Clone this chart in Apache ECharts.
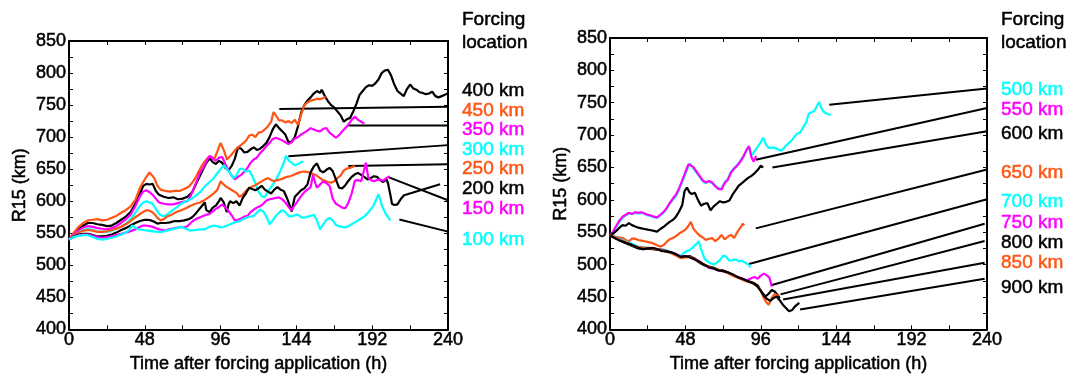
<!DOCTYPE html>
<html>
<head>
<meta charset="utf-8">
<script src="https://cdn.jsdelivr.net/npm/echarts@6/dist/echarts.min.js"></script>
<style>
html, body { margin: 0; padding: 0; background: #fff; }
#chart { width: 1071px; height: 378px; }
</style>
</head>
<body>
<div id="chart"></div>
<script>
// axis ticks
const xTicks = [0, 48, 96, 144, 192, 240];
const yTicks = [400, 450, 500, 550, 600, 650, 700, 750, 800, 850];

// left panel: forcing 100-450 km, [hour, R15]
const r400 = [[0,540],[3,548],[6,556],[9,562],[12,566],[15,566],[18,564],[21,563],[24,561],[27,562],[30,566],[33,571],[36,576],[39,583],[42,596],[45,612],[47,624],[49,627],[51,626],[53,627],[55,616],[57,610],[60,607],[63,605],[66,606],[69,603],[72,604],[75,607],[78,614],[81,630],[84,645],[87,660],[89,667],[91,661],[93,658],[95,663],[97,660],[99,652],[101,648],[103,655],[105,666],[107,684],[109,682],[111,676],[113,677],[115,681],[117,684],[119,680],[121,682],[123,686],[125,691],[127,700],[129,712],[131,720],[133,714],[135,709],[137,704],[139,692],[141,693],[143,700],[145,717],[147,738],[149,750],[151,757],[153,762],[155,768],[157,772],[159,769],[160,774],[162,764],[164,756],[166,750],[168,746],[170,740],[172,734],[174,724],[176,728],[178,730],[180,740],[182,752],[184,766],[186,772],[188,778],[190,781],[192,780],[194,784],[196,790],[198,800],[200,804],[202,805],[204,796],[206,782],[208,772],[210,768],[212,764],[214,775],[216,782],[218,776],[220,774],[222,770],[224,769],[226,767],[228,768],[230,771],[232,764],[234,762],[236,764],[238,766],[240,769]];
const r450 = [[0,540],[3,551],[6,560],[9,566],[12,570],[15,571],[18,572],[21,570],[24,571],[27,574],[30,577],[33,582],[36,586],[39,592],[42,602],[45,621],[47,630],[49,638],[51,645],[52,646],[54,636],[56,624],[58,618],[61,616],[64,615],[67,616],[70,616],[73,619],[76,623],[78,629],[80,636],[82,646],[84,655],[86,662],[88,668],[90,670],[92,666],[94,678],[96,691],[98,680],[100,665],[102,670],[104,676],[106,682],[108,686],[110,690],[112,694],[114,702],[116,704],[118,700],[120,707],[122,708],[124,712],[126,717],[128,724],[129.5,739],[131,734],[133,726],[135,726],[137,723],[139,725],[141,722],[143,727],[145,719],[147,735],[149,750],[151,754],[153,757],[155,758],[157,760],[159,759],[161,761],[162.5,763]];
const r350 = [[0,540],[3,548],[6,554],[9,559],[12,561],[15,560],[18,558],[21,557],[24,556],[27,558],[30,561],[33,566],[36,572],[39,579],[42,592],[45,608],[47,615],[49,617],[51,614],[53,610],[55,604],[57,598],[60,596],[63,595],[66,595],[69,597],[72,599],[75,600],[77,608],[79,620],[81,632],[83,645],[85,652],[87,662],[89,671],[91,666],[93,663],[95,668],[97,669],[99,658],[101,648],[103,640],[105,634],[107,638],[109,641],[111,646],[113,652],[115,660],[117,665],[119,668],[121,675],[123,680],[125,686],[127,691],[129,697],[131,699],[133,697],[135,695],[137,692],[139,689],[141,692],[143,698],[145,700],[147,704],[149,707],[151,710],[153,714],[155,712],[157,710],[159,709],[161,713],[163,714],[165,707],[167,703],[169,699],[171,703],[173,709],[175,714],[177,720],[179,727],[181,732],[183,727],[185,724],[187,721]];
const r300 = [[0,540],[3,546],[6,551],[9,555],[12,557],[15,555],[18,553],[21,552],[24,552],[27,554],[30,557],[33,560],[36,565],[39,572],[42,582],[45,593],[47,598],[49,600],[51,598],[53,596],[55,588],[57,580],[59,577],[61,577],[63,581],[65,585],[68,590],[71,596],[74,600],[77,603],[80,608],[83,614],[86,623],[89,630],[92,637],[94,644],[96,650],[98,656],[100,650],[102,644],[104,636],[106,640],[108,650],[110,651],[112,646],[114,648],[116,640],[118,628],[120,615],[122,608],[124,606],[126,616],[128,622],[130,630],[132,638],[134,648],[136,660],[137.5,671],[139,664],[141,660],[143,656],[145,658],[147,661],[148.5,662]];
const r250 = [[0,540],[3,546],[6,551],[9,554],[12,555],[15,554],[18,552],[21,552],[24,553],[27,555],[30,557],[33,560],[36,564],[39,569],[42,575],[45,580],[48,585],[50,586],[52,584],[54,580],[56,574],[58,570],[60,572],[62,576],[65,579],[68,583],[71,586],[74,589],[77,593],[80,596],[83,598],[86,602],[89,607],[92,613],[94,618],[96,631],[98,626],[100,622],[102,619],[104,616],[106,613],[108,607],[110,610],[112,616],[114,620],[116,623],[118,625],[120,628],[122,631],[124,634],[126,636],[128,633],[130,631],[132,633],[134,634],[136,636],[138,638],[140,639],[142,641],[144,643],[146,645],[148,646],[150,646],[152,645],[154,643],[156,641],[158,638],[160,634],[162,632],[164,630],[166,629],[168,631],[170,636],[172,640],[174,648],[176,651],[178,652],[180,654],[181,655]];
const r200 = [[0,540],[3,545],[6,548],[9,549],[12,549],[15,547],[18,545],[21,545],[24,546],[27,548],[30,551],[33,555],[36,558],[39,562],[42,566],[45,569],[48,571],[50,571],[52,570],[54,568],[56,565],[58,566],[61,566],[64,567],[67,569],[70,569],[73,570],[76,572],[78,575],[80,580],[82,586],[84,592],[86,598],[87,586],[89,583],[91,590],[93,593],[95,600],[96,605],[98,598],[99,590],[100,583],[101,595],[102,600],[104,597],[106,600],[108,593],[110,605],[112,612],[114,621],[116,619],[118,617],[120,620],[122,624],[124,618],[126,615],[128,612],[130,618],[132,622],[134,618],[136,616],[138,605],[139.5,595],[141,584],[142,596],[143,607],[145,612],[147,617],[149,620],[151,626],[153,645],[155,654],[157,659],[159,648],[161,645],[163,649],[165,652],[167,647],[169,634],[171,621],[173,620],[175,625],[177,632],[179,638],[181,642],[183,644],[185,641],[187,638],[189,634],[191,636],[193,639],[195,638],[197,633],[199,630],[201,634],[202,628],[203.5,610],[204.5,596],[206,594],[208,595],[210,603],[212,609]];
const r150 = [[0,540],[3,544],[6,547],[9,548],[12,548],[15,546],[18,544],[21,543],[24,544],[27,545],[30,547],[33,549],[36,551],[39,553],[42,556],[45,560],[47,562],[49,562],[51,561],[53,560],[55,558],[57,556],[59,555],[61,554],[63,556],[65,557],[67,558],[69,559],[71,560],[73,559],[75,561],[77,566],[79,570],[81,573],[83,575],[85,577],[87,579],[89,580],[91,584],[93,588],[95,591],[97,595],[99,590],[101,585],[103,578],[105,570],[107,571],[109,573],[111,576],[113,577],[115,583],[117,587],[119,590],[121,592],[123,596],[125,601],[127,603],[129,604],[131,605],[133,606],[135,603],[137,598],[139,591],[141,586],[143,594],[145,601],[147,608],[149,614],[151,618],[153,622],[154.5,641],[156,628],[157,621],[159,626],[161,631],[163,628],[165,624],[167,604],[169,596],[171,593],[173,590],[175,589],[177,598],[179,612],[181,632],[183,633],[185,631],[187,650],[188,660],[189.5,637],[191,633],[193,631],[195,633],[197,634],[199,632],[201,636],[203,639]];
const r100 = [[0,540],[3,544],[6,546],[9,547],[12,547],[15,544],[18,541],[21,540],[24,541],[27,543],[30,545],[33,548],[36,551],[38,555],[40,562],[42,559],[44,556],[47,555],[50,554],[53,553],[56,552],[59,552],[62,554],[65,556],[68,558],[71,560],[74,557],[77,554],[80,555],[83,556],[86,556],[89,560],[92,562],[95,560],[97,559],[99,561],[101,563],[103,565],[105,567],[107,568],[109,570],[111,573],[113,575],[115,576],[117,577],[119,582],[121,587],[123,584],[125,576],[127,564],[129,570],[131,577],[133,582],[135,586],[137,583],[139,577],[141,576],[143,578],[145,579],[147,575],[149,574],[151,576],[153,577],[155,579],[157,570],[159,556],[161,564],[163,571],[165,574],[167,570],[169,563],[171,561],[173,560],[175,559],[177,561],[179,564],[181,567],[183,570],[185,573],[187,576],[189,581],[191,587],[193,594],[195,605],[196,611],[197,603],[198,594],[200,583],[202,575],[203.5,570]];

// right panel: forcing 500-900 km
const r500 = [[0,545],[2,550],[4,558],[6,566],[8,572],[10,576],[12,579],[14,578],[16,580],[18,579],[20,580],[22,578],[24,576],[26,575],[28,573],[30,572],[32,576],[34,580],[36,586],[38,594],[40,600],[42,606],[44,616],[46,628],[48,640],[50,652],[51,656],[53,649],[55,642],[57,636],[59,629],[61,626],[63,628],[65,626],[67,622],[69,618],[71,617],[73,627],[75,632],[77,643],[79,649],[81,654],[83,660],[85,668],[87,676],[88.5,682],[90,668],[92,675],[94,682],[96,689],[97.5,696],[99,687],[101,680],[103,681],[105,680],[107,678],[109,676],[111,681],[113,686],[115,690],[117,696],[119,702],[121,704],[123,712],[125,720],[126.5,733],[128,735],[130,737],[132,746],[133,751],[134.5,742],[136,736],[138,733],[140.5,731]];
const r550 = [[0,545],[2,551],[4,560],[6,568],[8,574],[10,577],[12,580],[14,578],[16,581],[18,580],[20,581],[22,579],[24,577],[26,576],[28,574],[30,573],[32,577],[34,581],[36,587],[38,595],[40,602],[42,608],[44,618],[46,630],[48,643],[50,655],[51,658],[53,651],[55,644],[57,637],[59,630],[61,627],[63,629],[65,627],[67,621],[69,617],[71,616],[73,626],[75,631],[77,642],[79,648],[81,653],[83,659],[85,667],[87,678],[88.5,683],[90,666],[91.5,659],[93,668]];
const r600 = [[0,545],[2,548],[4,552],[6,557],[8,561],[10,560],[12,564],[14,561],[16,559],[18,557],[20,556],[22,555],[24,554],[26,553],[28,552],[30,551],[32,555],[34,558],[36,562],[38,566],[40,569],[42,574],[44,582],[46,592],[47.5,614],[49,619],[50.5,612],[52,609],[54,611],[56,600],[58,591],[60,594],[62,595],[64,584],[66,590],[68,594],[70,598],[72,596],[74,597],[76,599],[78,608],[80,615],[82,622],[84,626],[86,630],[88,634],[90,637],[92,641],[94,646],[96,653],[97.5,650]];
const r650 = [[0,545],[2,544],[4,543],[6,542],[8,541],[10,538],[12,536],[14,540],[16,540],[18,538],[20,537],[22,536],[24,535],[26,534],[28,532],[30,530],[32,528],[34,530],[36,535],[38,539],[40,541],[42,544],[44,548],[46,551],[48,554],[50,560],[51.5,566],[53,556],[55,550],[57,545],[59,542],[61,538],[63,540],[65,541],[67,536],[69,540],[71,546],[73,539],[75,543],[77,546],[79,541],[81,550],[83,557],[84.5,563],[85.5,561]];
const r700 = [[0,545],[3,543],[6,540],[9,537],[12,534],[15,531],[18,528],[21,527],[24,526],[27,525],[30,524],[33,524],[36,522],[39,519],[42,517],[45,513],[47,518],[49,521],[51,523],[53,527],[55,532],[56.5,536],[58,524],[60,510],[62,505],[64,502],[66,500],[68,503],[70,507],[72,514],[74,512],[76,506],[78,507],[80,508],[82,505],[84,506],[86,503],[88,500],[89.5,496]];
const r750 = [[0,545],[3,542],[6,539],[9,535],[12,532],[15,529],[18,526],[21,526],[24,525],[27,525],[30,524],[33,523],[36,521],[39,519],[42,516],[45,512],[48,513],[51,512],[54,509],[57,505],[60,500],[63,495],[66,494],[69,491],[72,490],[75,487],[78,484],[81,481],[84,479],[87,476],[90,479],[92,481],[94,478],[96,483],[98,486],[100,483],[101.5,480],[103,466]];
const r800 = [[0,545],[3,541],[6,538],[9,534],[12,531],[15,528],[18,525],[21,524],[24,525],[27,524],[30,523],[33,522],[36,521],[39,518],[42,515],[45,511],[48,512],[51,513],[54,509],[57,503],[60,499],[63,497],[66,495],[69,492],[72,491],[75,488],[78,484],[81,481],[84,478],[87,475],[90,473],[92,471],[94,468],[95.5,462],[97,456],[99,451],[101,455],[103,461],[105,458],[107,452],[108,448]];
const r850 = [[0,545],[3,542],[6,538],[9,536],[12,532],[15,529],[18,527],[21,526],[24,526],[27,525],[30,524],[33,522],[36,520],[39,518],[42,514],[45,510],[48,511],[51,512],[54,508],[57,503],[60,500],[63,497],[66,494],[69,492],[72,490],[75,487],[78,483],[81,480],[84,477],[87,474],[90,472],[92,470],[94,466],[96,460],[98,448],[99.5,442],[101,438],[103,449],[105,455],[107,451]];
const r900 = [[0,545],[3,541],[6,537],[9,535],[12,532],[15,529],[18,526],[21,524],[24,525],[27,526],[30,524],[33,521],[36,520],[39,519],[42,516],[45,512],[48,513],[51,511],[54,508],[57,504],[60,500],[63,496],[66,494],[69,491],[72,490],[75,488],[78,485],[81,481],[84,478],[87,475],[90,472],[92,470],[94,466],[96,459],[98,452],[100,447],[102,444],[104,448],[106,451],[108,445],[110,438],[112,433],[114,428],[116,430],[118,436],[120.5,441]];

// leader lines from curve ends to the labels
const leftLeaders = [
    [[133.2,744],[240,747.5]],
    [[176.9,718],[240,718]],
    [[138.9,670],[240,687.5]],
    [[176.9,655],[240,657.5]],
    [[202.2,637.5],[240,601.5]],
    [[211.7,609],[235,626.5]],
    [[209.2,571.5],[240,552.5]],
];
const rightLeaders = [
    [[139.6,747],[240,772]],
    [[92.8,662],[240,742]],
    [[103.4,650],[240,706]],
    [[92.8,556],[240,647]],
    [[88.5,501],[240,601]],
    [[102.6,468],[238.5,563]],
    [[108.5,454],[238.5,536.5]],
    [[110.2,446],[238.5,503]],
    [[121,430.5],[238.5,478]],
];

const BLACK = "#000000", ORANGE = "#ff5514", MAGENTA = "#ff00ff", CYAN = "#00ffff";

const leftSeries = [
    { name: "400 km", color: BLACK, data: r400 },
    { name: "450 km", color: ORANGE, data: r450 },
    { name: "350 km", color: MAGENTA, data: r350 },
    { name: "300 km", color: CYAN, data: r300 },
    { name: "250 km", color: ORANGE, data: r250 },
    { name: "200 km", color: BLACK, data: r200 },
    { name: "150 km", color: MAGENTA, data: r150 },
    { name: "100 km", color: CYAN, data: r100 },
];
const rightSeries = [
    { name: "500 km", color: CYAN, data: r500 },
    { name: "550 km", color: MAGENTA, data: r550 },
    { name: "600 km", color: BLACK, data: r600 },
    { name: "650 km", color: ORANGE, data: r650 },
    { name: "700 km", color: CYAN, data: r700 },
    { name: "750 km", color: MAGENTA, data: r750 },
    { name: "800 km", color: BLACK, data: r800 },
    { name: "850 km", color: ORANGE, data: r850 },
    { name: "900 km", color: BLACK, data: r900 },
];
// label rows (px centre) beside each panel
const leftLabelY = [90.7, 110.7, 130, 150, 169, 188.5, 209, 240];
const rightLabelY = [89.5, 109.5, 133.5, 172.5, 201.5, 222.5, 243, 263, 288];

const FONT = "'Liberation Sans', Arial, sans-serif";
// a thin outline makes the text about as heavy as the scanned original
const textStyle = (color) => ({
    fontSize: 18, color: color, fontFamily: FONT,
    textBorderColor: color, textBorderWidth: 0.5,
});

const baseAxis = {
    type: "value",
    axisLine: { show: true, onZero: false, lineStyle: { color: "#000", width: 2 } },
    axisTick: { show: true, inside: true, length: 4, lineStyle: { color: "#000", width: 1 } },
    minorTick: { show: true, splitNumber: 2, length: 4, lineStyle: { color: "#000", width: 1 } },
    splitLine: { show: false },
};

function xAxes(grid) {
    return [
        {
            ...baseAxis, gridIndex: grid, position: "bottom",
            min: xTicks[0], max: xTicks[xTicks.length - 1], interval: 48,
            name: "Time after forcing application (h)",
            nameLocation: "middle", nameGap: 18,
            nameTextStyle: textStyle("#000"),
            axisLabel: { ...textStyle("#000"), margin: 2 },
        },
        {
            ...baseAxis, gridIndex: grid, position: "top",
            min: xTicks[0], max: xTicks[xTicks.length - 1], interval: 48,
            axisLabel: { show: false },
        },
    ];
}

function yAxes(grid) {
    return [
        {
            ...baseAxis, gridIndex: grid, position: "left",
            min: yTicks[0], max: yTicks[yTicks.length - 1], interval: 50,
            name: "R15 (km)",
            nameLocation: "middle", nameGap: 40,
            nameTextStyle: textStyle("#000"),
            axisLabel: { ...textStyle("#000"), margin: 3 },
        },
        {
            ...baseAxis, gridIndex: grid, position: "right",
            min: yTicks[0], max: yTicks[yTicks.length - 1], interval: 50,
            axisLabel: { show: false },
        },
    ];
}

function curves(list, axisIdx) {
    return list.map(s => ({
        name: s.name,
        type: "line",
        xAxisIndex: axisIdx,
        yAxisIndex: axisIdx,
        data: s.data,
        showSymbol: false,
        symbol: "none",
        lineStyle: { color: s.color, width: 2.2 },
        z: 3,
    }));
}

function leaders(list, axisIdx) {
    return list.map(seg => ({
        type: "line",
        xAxisIndex: axisIdx,
        yAxisIndex: axisIdx,
        data: seg,
        showSymbol: false,
        symbol: "none",
        lineStyle: { color: "#000", width: 2 },
        z: 2,
    }));
}

function labelTexts(list, ys, x) {
    const mk = (text, y, color) => ({
        type: "text", x: x, y: y,
        style: {
            text: text, fill: color, fontSize: 19, fontFamily: FONT,
            verticalAlign: "middle", stroke: color, lineWidth: 0.5,
        },
    });
    const out = [mk("Forcing", 20, "#000"), mk("location", 43, "#000")];
    list.forEach((s, i) => out.push(mk(s.name, ys[i], s.color)));
    return out;
}

const chart = echarts.init(document.getElementById("chart"));
chart.setOption({
    animation: false,
    backgroundColor: "#fff",
    grid: [
        { left: 69, top: 41, width: 379, height: 300 },
        { left: 610, top: 38, width: 377, height: 299 },
    ],
    xAxis: [...xAxes(0), ...xAxes(1)],
    yAxis: [...yAxes(0), ...yAxes(1)],
    series: [
        ...leaders(leftLeaders, 0),
        ...curves(leftSeries, 0),
        ...leaders(rightLeaders, 2),
        ...curves(rightSeries, 2),
    ],
    graphic: [
        ...labelTexts(leftSeries, leftLabelY, 462),
        ...labelTexts(rightSeries, rightLabelY, 1001),
    ],
});
</script>
</body>
</html>
